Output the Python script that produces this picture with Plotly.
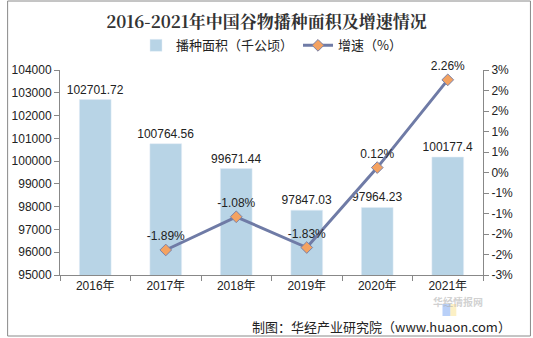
import plotly.graph_objects as go

years = ["2016年", "2017年", "2018年", "2019年", "2020年", "2021年"]
area = [102701.72, 100764.56, 99671.44, 97847.03, 97964.23, 100177.4]
area_labels = ["102701.72", "100764.56", "99671.44", "97847.03", "97964.23", "100177.4"]
growth_years = ["2017年", "2018年", "2019年", "2020年", "2021年"]
growth = [-1.89, -1.08, -1.83, 0.12, 2.26]
growth_labels = ["-1.89%", "-1.08%", "-1.83%", "0.12%", "2.26%"]
y2_tickvals = [-2.5, -2.0, -1.5, -1.0, -0.5, 0.0, 0.5, 1.0, 1.5, 2.0, 2.5]
y2_ticktext = ["-3%", "-2%", "-2%", "-1%", "-1%", "0%", "1%", "1%", "2%", "2%", "3%"]

FONT = "Liberation Sans, Arial, Noto Sans CJK SC, sans-serif"
AX = "#888888"

fig = go.Figure()
fig.add_trace(go.Bar(
    x=years, y=area, name="播种面积（千公顷）",
    marker=dict(color="#B8D4E6"), width=0.45,
    text=area_labels, textposition="outside", cliponaxis=False,
    constraintext="none",
    textfont=dict(size=12, color="#222222", family=FONT),
))
fig.add_trace(go.Scatter(
    x=growth_years, y=growth, name="增速（%）", yaxis="y2",
    mode="lines+markers+text",
    line=dict(color="#6F7BA6", width=3),
    marker=dict(symbol="diamond", size=9, color="#F4A261",
                line=dict(color="#7A82A8", width=1)),
    text=growth_labels, textposition="top center",
    textfont=dict(size=12, color="#222222", family=FONT),
    cliponaxis=False,
))

fig.update_layout(
    width=533, height=338,
    margin=dict(l=55, r=50, t=70, b=63),
    paper_bgcolor="white", plot_bgcolor="white",
    font=dict(family=FONT, size=11, color="#333333"),
    title=dict(text="<b>2016-2021年中国谷物播种面积及增速情况</b>",
               x=0.5, xanchor="center", y=0.935, yanchor="middle",
               font=dict(size=17, color="#333333",
                         family="Noto Serif CJK SC, Noto Sans CJK SC, serif")),
    showlegend=True,
    legend=dict(orientation="h", x=0.5, xanchor="center", y=1.12, yanchor="middle",
                font=dict(size=13, color="#222222", family="Noto Sans CJK SC, sans-serif"),
                bgcolor="rgba(0,0,0,0)", itemwidth=30, tracegroupgap=0),
    xaxis=dict(type="category", showline=True, linecolor=AX, linewidth=1,
               ticks="outside", tickson="boundaries", ticklen=5, tickcolor=AX,
               tickfont=dict(size=12, color="#222222"), showgrid=False, zeroline=False),
    yaxis=dict(range=[95000, 104000], dtick=1000, showline=True, linecolor=AX,
               ticks="outside", ticklen=5, tickcolor=AX, showgrid=False, zeroline=False,
               tickformat="d", tickfont=dict(size=12, color="#222222")),
    yaxis2=dict(overlaying="y", side="right", range=[-2.5, 2.5],
                tickvals=y2_tickvals, ticktext=y2_ticktext,
                showline=True, linecolor=AX, ticks="outside", ticklen=5, tickcolor=AX,
                showgrid=False, zeroline=False, tickfont=dict(size=12, color="#222222")),
)

# outer border
fig.add_shape(type="rect", xref="paper", yref="paper",
              x0=(2 - 55) / 428, x1=(531 - 55) / 428,
              y0=(275 - 336) / 205, y1=(275 - 1) / 205,
              line=dict(color="#8a8a8a", width=1), fillcolor="rgba(0,0,0,0)")

# watermark (faint)
fig.add_shape(type="rect", xref="paper", yref="paper",
              x0=(442 - 55) / 428, x1=(450 - 55) / 428,
              y0=(275 - 316) / 205, y1=(275 - 304) / 205,
              line=dict(width=0), fillcolor="rgba(100,150,240,0.45)", layer="below")
fig.add_shape(type="rect", xref="paper", yref="paper",
              x0=(450 - 55) / 428, x1=(456 - 55) / 428,
              y0=(275 - 316) / 205, y1=(275 - 304) / 205,
              line=dict(width=0), fillcolor="rgba(250,225,140,0.5)", layer="below")
fig.add_annotation(text="<b>华经情报网</b>", xref="paper", yref="paper",
                   x=(484 - 55) / 428, y=(275 - 310) / 205, showarrow=False,
                   borderpad=0,
                   font=dict(size=10, color="rgba(170,170,170,0.55)",
                             family="Noto Sans CJK SC, sans-serif"))
# source
fig.add_annotation(text="制图：华经产业研究院（www.huaon.com）", xref="paper", yref="paper",
                   x=(513 - 55) / 428, xanchor="right", y=(275 - 326) / 205, yanchor="middle",
                   showarrow=False,
                   font=dict(size=13, color="#222222", family="Noto Sans CJK SC, sans-serif"))

fig.write_html("out.html")
